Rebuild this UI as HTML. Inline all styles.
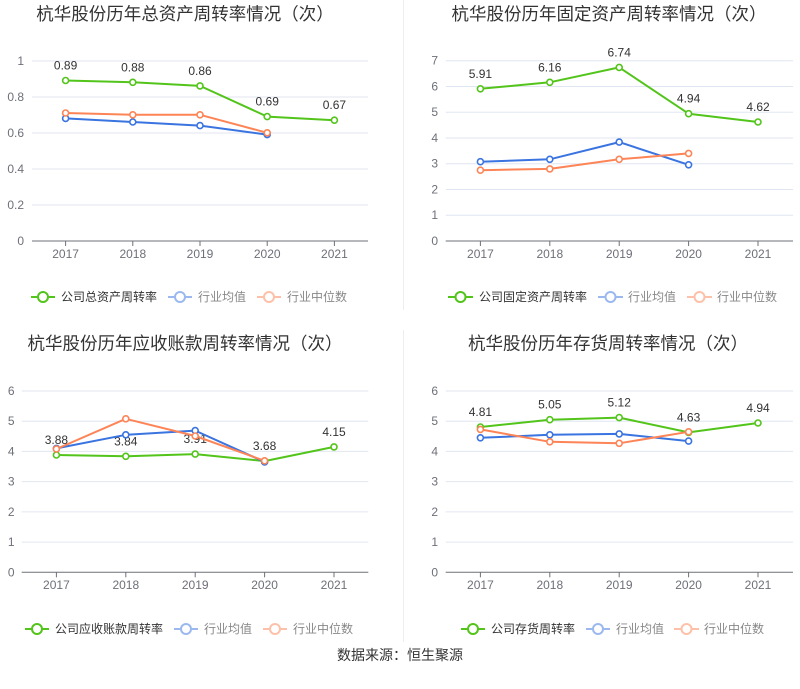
<!DOCTYPE html>
<html><head><meta charset="utf-8"><style>
html,body{margin:0;padding:0;background:#fff;}
svg{display:block;font-family:"Liberation Sans","Noto Sans CJK SC",sans-serif;}
.t{font-size:17.5px;fill:#333;text-anchor:middle;font-family:"Liberation Sans","Noto Sans CJK SC",sans-serif;}
.g{stroke:#e0e6f1;stroke-width:1;}
.ax{stroke:#6e7079;stroke-width:1;}
.yl{font-size:12px;fill:#6e7079;text-anchor:end;}
.xl{font-size:12px;fill:#6e7079;text-anchor:middle;}
.dl{font-size:12px;fill:#333;text-anchor:middle;}
.lg{font-size:12px;fill:#333;}
.lg2{font-size:12px;fill:#888;}
.gr{stroke:#52c41a;}
.bl{stroke:#3a74e0;}
.or{stroke:#fd8456;}
.ln{fill:none;stroke-width:2;stroke-linejoin:round;}
.mk{fill:#fff;stroke-width:1.6;}
</style></head><body>
<svg width="800" height="689" viewBox="0 0 800 689" xmlns="http://www.w3.org/2000/svg">
<rect width="800" height="689" fill="#fff"/>
<line x1="403.5" y1="0" x2="403.5" y2="310" stroke="#eee"/>
<line x1="403.5" y1="330" x2="403.5" y2="642" stroke="#eee"/>

<!-- Chart 1 -->
<text class="t" x="185" y="20">杭华股份历年总资产周转率情况（次）</text>
<g>
<line class="g" x1="32" y1="61" x2="368" y2="61"/>
<line class="g" x1="32" y1="97" x2="368" y2="97"/>
<line class="g" x1="32" y1="133" x2="368" y2="133"/>
<line class="g" x1="32" y1="169" x2="368" y2="169"/>
<line class="g" x1="32" y1="205" x2="368" y2="205"/>
<line class="ax" x1="32" y1="241" x2="368" y2="241"/>
<line class="ax" x1="65.6" y1="241" x2="65.6" y2="246"/>
<line class="ax" x1="132.8" y1="241" x2="132.8" y2="246"/>
<line class="ax" x1="200" y1="241" x2="200" y2="246"/>
<line class="ax" x1="267.2" y1="241" x2="267.2" y2="246"/>
<line class="ax" x1="334.4" y1="241" x2="334.4" y2="246"/>
<text class="yl" x="24" y="65">1</text>
<text class="yl" x="24" y="101">0.8</text>
<text class="yl" x="24" y="137">0.6</text>
<text class="yl" x="24" y="173">0.4</text>
<text class="yl" x="24" y="209">0.2</text>
<text class="yl" x="24" y="245">0</text>
<text class="xl" x="65.6" y="258">2017</text>
<text class="xl" x="132.8" y="258">2018</text>
<text class="xl" x="200" y="258">2019</text>
<text class="xl" x="267.2" y="258">2020</text>
<text class="xl" x="334.4" y="258">2021</text>
<polyline class="ln gr" points="65.6,80.5 132.8,82.3 200,85.9 267.2,116.6 334.4,120.2"/>
<g class="mk gr"><circle cx="65.6" cy="80.5" r="3"/><circle cx="132.8" cy="82.3" r="3"/><circle cx="200" cy="85.9" r="3"/><circle cx="267.2" cy="116.6" r="3"/><circle cx="334.4" cy="120.2" r="3"/></g>
<text class="dl" x="65.6" y="69.5">0.89</text>
<text class="dl" x="132.8" y="71.3">0.88</text>
<text class="dl" x="200" y="74.9">0.86</text>
<text class="dl" x="267.2" y="105.6">0.69</text>
<text class="dl" x="334.4" y="109.2">0.67</text>
<polyline class="ln bl" points="65.6,118.4 132.8,122 200,125.6 267.2,134.6"/>
<g class="mk bl"><circle cx="65.6" cy="118.4" r="3"/><circle cx="132.8" cy="122" r="3"/><circle cx="200" cy="125.6" r="3"/><circle cx="267.2" cy="134.6" r="3"/></g>
<polyline class="ln or" points="65.6,113 132.8,114.8 200,114.8 267.2,132.8"/>
<g class="mk or"><circle cx="65.6" cy="113" r="3"/><circle cx="132.8" cy="114.8" r="3"/><circle cx="200" cy="114.8" r="3"/><circle cx="267.2" cy="132.8" r="3"/></g>
<!-- legend -->
<line x1="31" y1="297" x2="55" y2="297" stroke="#52c41a" stroke-width="2"/><circle cx="43" cy="297" r="5" fill="#fff" stroke="#52c41a" stroke-width="2"/>
<text class="lg" x="61" y="301">公司总资产周转率</text>
<g opacity="0.5"><line x1="168" y1="297" x2="192" y2="297" stroke="#3a74e0" stroke-width="2"/><circle cx="180" cy="297" r="5" fill="#fff" stroke="#3a74e0" stroke-width="2"/></g>
<text class="lg2" x="198" y="301">行业均值</text>
<g opacity="0.5"><line x1="257" y1="297" x2="281" y2="297" stroke="#fd8456" stroke-width="2"/><circle cx="269" cy="297" r="5" fill="#fff" stroke="#fd8456" stroke-width="2"/></g>
<text class="lg2" x="287" y="301">行业中位数</text>
</g>

<!-- Chart 2 -->
<text class="t" x="609" y="20">杭华股份历年固定资产周转率情况（次）</text>
<g>
<line class="g" x1="445.7" y1="60.7" x2="793" y2="60.7"/>
<line class="g" x1="445.7" y1="86.5" x2="793" y2="86.5"/>
<line class="g" x1="445.7" y1="112.2" x2="793" y2="112.2"/>
<line class="g" x1="445.7" y1="138" x2="793" y2="138"/>
<line class="g" x1="445.7" y1="163.7" x2="793" y2="163.7"/>
<line class="g" x1="445.7" y1="189.5" x2="793" y2="189.5"/>
<line class="g" x1="445.7" y1="215.2" x2="793" y2="215.2"/>
<line class="ax" x1="445.7" y1="241" x2="793" y2="241"/>
<line class="ax" x1="480.4" y1="241" x2="480.4" y2="246"/>
<line class="ax" x1="549.8" y1="241" x2="549.8" y2="246"/>
<line class="ax" x1="619.2" y1="241" x2="619.2" y2="246"/>
<line class="ax" x1="688.6" y1="241" x2="688.6" y2="246"/>
<line class="ax" x1="758" y1="241" x2="758" y2="246"/>
<text class="yl" x="438" y="64.7">7</text>
<text class="yl" x="438" y="90.5">6</text>
<text class="yl" x="438" y="116.2">5</text>
<text class="yl" x="438" y="142">4</text>
<text class="yl" x="438" y="167.7">3</text>
<text class="yl" x="438" y="193.5">2</text>
<text class="yl" x="438" y="219.2">1</text>
<text class="yl" x="438" y="245">0</text>
<text class="xl" x="480.4" y="258">2017</text>
<text class="xl" x="549.8" y="258">2018</text>
<text class="xl" x="619.2" y="258">2019</text>
<text class="xl" x="688.6" y="258">2020</text>
<text class="xl" x="758" y="258">2021</text>
<polyline class="ln gr" points="480.4,88.8 549.8,82.3 619.2,67.4 688.6,113.7 758,122"/>
<g class="mk gr"><circle cx="480.4" cy="88.8" r="3"/><circle cx="549.8" cy="82.3" r="3"/><circle cx="619.2" cy="67.4" r="3"/><circle cx="688.6" cy="113.7" r="3"/><circle cx="758" cy="122" r="3"/></g>
<text class="dl" x="480.4" y="77.8">5.91</text>
<text class="dl" x="549.8" y="71.3">6.16</text>
<text class="dl" x="619.2" y="56.4">6.74</text>
<text class="dl" x="688.6" y="102.7">4.94</text>
<text class="dl" x="758" y="111">4.62</text>
<polyline class="ln bl" points="480.4,161.7 549.8,159.3 619.2,142.1 688.6,164.8"/>
<g class="mk bl"><circle cx="480.4" cy="161.7" r="3"/><circle cx="549.8" cy="159.3" r="3"/><circle cx="619.2" cy="142.1" r="3"/><circle cx="688.6" cy="164.8" r="3"/></g>
<polyline class="ln or" points="480.4,170.2 549.8,168.9 619.2,159.3 688.6,153.4"/>
<g class="mk or"><circle cx="480.4" cy="170.2" r="3"/><circle cx="549.8" cy="168.9" r="3"/><circle cx="619.2" cy="159.3" r="3"/><circle cx="688.6" cy="153.4" r="3"/></g>
<line x1="448" y1="297" x2="473" y2="297" stroke="#52c41a" stroke-width="2"/><circle cx="460.5" cy="297" r="5" fill="#fff" stroke="#52c41a" stroke-width="2"/>
<text class="lg" x="479" y="301">公司固定资产周转率</text>
<g opacity="0.5"><line x1="598" y1="297" x2="623" y2="297" stroke="#3a74e0" stroke-width="2"/><circle cx="610.5" cy="297" r="5" fill="#fff" stroke="#3a74e0" stroke-width="2"/></g>
<text class="lg2" x="628" y="301">行业均值</text>
<g opacity="0.5"><line x1="687" y1="297" x2="712" y2="297" stroke="#fd8456" stroke-width="2"/><circle cx="699.5" cy="297" r="5" fill="#fff" stroke="#fd8456" stroke-width="2"/></g>
<text class="lg2" x="717" y="301">行业中位数</text>
</g>

<!-- Chart 3 -->
<text class="t" x="185" y="349.5">杭华股份历年应收账款周转率情况（次）</text>
<g>
<line class="g" x1="21.7" y1="391" x2="368.3" y2="391"/>
<line class="g" x1="21.7" y1="421.2" x2="368.3" y2="421.2"/>
<line class="g" x1="21.7" y1="451.4" x2="368.3" y2="451.4"/>
<line class="g" x1="21.7" y1="481.6" x2="368.3" y2="481.6"/>
<line class="g" x1="21.7" y1="511.9" x2="368.3" y2="511.9"/>
<line class="g" x1="21.7" y1="542.1" x2="368.3" y2="542.1"/>
<line class="ax" x1="21.7" y1="572.3" x2="368.3" y2="572.3"/>
<line class="ax" x1="56.4" y1="572.3" x2="56.4" y2="577.3"/>
<line class="ax" x1="125.8" y1="572.3" x2="125.8" y2="577.3"/>
<line class="ax" x1="195.2" y1="572.3" x2="195.2" y2="577.3"/>
<line class="ax" x1="264.6" y1="572.3" x2="264.6" y2="577.3"/>
<line class="ax" x1="334" y1="572.3" x2="334" y2="577.3"/>
<text class="yl" x="14.5" y="395">6</text>
<text class="yl" x="14.5" y="425.2">5</text>
<text class="yl" x="14.5" y="455.4">4</text>
<text class="yl" x="14.5" y="485.6">3</text>
<text class="yl" x="14.5" y="515.9">2</text>
<text class="yl" x="14.5" y="546.1">1</text>
<text class="yl" x="14.5" y="576.3">0</text>
<text class="xl" x="56.4" y="589">2017</text>
<text class="xl" x="125.8" y="589">2018</text>
<text class="xl" x="195.2" y="589">2019</text>
<text class="xl" x="264.6" y="589">2020</text>
<text class="xl" x="334" y="589">2021</text>
<polyline class="ln gr" points="56.4,455 125.8,456.3 195.2,454.1 264.6,461.1 334,446.9"/>
<g class="mk gr"><circle cx="56.4" cy="455" r="3"/><circle cx="125.8" cy="456.3" r="3"/><circle cx="195.2" cy="454.1" r="3"/><circle cx="264.6" cy="461.1" r="3"/><circle cx="334" cy="446.9" r="3"/></g>
<text class="dl" x="56.4" y="444">3.88</text>
<text class="dl" x="125.8" y="445.3">3.84</text>
<text class="dl" x="195.2" y="443.1">3.91</text>
<text class="dl" x="264.6" y="450.1">3.68</text>
<text class="dl" x="334" y="435.9">4.15</text>
<polyline class="ln bl" points="56.4,448.4 125.8,434.8 195.2,430.6 264.6,462"/>
<g class="mk bl"><circle cx="56.4" cy="448.4" r="3"/><circle cx="125.8" cy="434.8" r="3"/><circle cx="195.2" cy="430.6" r="3"/><circle cx="264.6" cy="462" r="3"/></g>
<polyline class="ln or" points="56.4,449 125.8,418.8 195.2,436 264.6,460.8"/>
<g class="mk or"><circle cx="56.4" cy="449" r="3"/><circle cx="125.8" cy="418.8" r="3"/><circle cx="195.2" cy="436" r="3"/><circle cx="264.6" cy="460.8" r="3"/></g>
<line x1="25" y1="629" x2="49" y2="629" stroke="#52c41a" stroke-width="2"/><circle cx="37" cy="629" r="5" fill="#fff" stroke="#52c41a" stroke-width="2"/>
<text class="lg" x="55" y="633">公司应收账款周转率</text>
<g opacity="0.5"><line x1="174" y1="629" x2="198" y2="629" stroke="#3a74e0" stroke-width="2"/><circle cx="186" cy="629" r="5" fill="#fff" stroke="#3a74e0" stroke-width="2"/></g>
<text class="lg2" x="204" y="633">行业均值</text>
<g opacity="0.5"><line x1="263" y1="629" x2="287" y2="629" stroke="#fd8456" stroke-width="2"/><circle cx="275" cy="629" r="5" fill="#fff" stroke="#fd8456" stroke-width="2"/></g>
<text class="lg2" x="293" y="633">行业中位数</text>
</g>

<!-- Chart 4 -->
<text class="t" x="608" y="349.5">杭华股份历年存货周转率情况（次）</text>
<g>
<line class="g" x1="445.7" y1="391" x2="793" y2="391"/>
<line class="g" x1="445.7" y1="421.2" x2="793" y2="421.2"/>
<line class="g" x1="445.7" y1="451.4" x2="793" y2="451.4"/>
<line class="g" x1="445.7" y1="481.6" x2="793" y2="481.6"/>
<line class="g" x1="445.7" y1="511.9" x2="793" y2="511.9"/>
<line class="g" x1="445.7" y1="542.1" x2="793" y2="542.1"/>
<line class="ax" x1="445.7" y1="572.3" x2="793" y2="572.3"/>
<line class="ax" x1="480.4" y1="572.3" x2="480.4" y2="577.3"/>
<line class="ax" x1="549.8" y1="572.3" x2="549.8" y2="577.3"/>
<line class="ax" x1="619.2" y1="572.3" x2="619.2" y2="577.3"/>
<line class="ax" x1="688.6" y1="572.3" x2="688.6" y2="577.3"/>
<line class="ax" x1="758" y1="572.3" x2="758" y2="577.3"/>
<text class="yl" x="438" y="395">6</text>
<text class="yl" x="438" y="425.2">5</text>
<text class="yl" x="438" y="455.4">4</text>
<text class="yl" x="438" y="485.6">3</text>
<text class="yl" x="438" y="515.9">2</text>
<text class="yl" x="438" y="546.1">1</text>
<text class="yl" x="438" y="576.3">0</text>
<text class="xl" x="480.4" y="589">2017</text>
<text class="xl" x="549.8" y="589">2018</text>
<text class="xl" x="619.2" y="589">2019</text>
<text class="xl" x="688.6" y="589">2020</text>
<text class="xl" x="758" y="589">2021</text>
<polyline class="ln gr" points="480.4,427 549.8,419.7 619.2,417.6 688.6,432.4 758,423"/>
<g class="mk gr"><circle cx="480.4" cy="427" r="3"/><circle cx="549.8" cy="419.7" r="3"/><circle cx="619.2" cy="417.6" r="3"/><circle cx="688.6" cy="432.4" r="3"/><circle cx="758" cy="423" r="3"/></g>
<text class="dl" x="480.4" y="416">4.81</text>
<text class="dl" x="549.8" y="408.7">5.05</text>
<text class="dl" x="619.2" y="406.6">5.12</text>
<text class="dl" x="688.6" y="421.4">4.63</text>
<text class="dl" x="758" y="412">4.94</text>
<polyline class="ln bl" points="480.4,437.8 549.8,434.8 619.2,433.9 688.6,441.1"/>
<g class="mk bl"><circle cx="480.4" cy="437.8" r="3"/><circle cx="549.8" cy="434.8" r="3"/><circle cx="619.2" cy="433.9" r="3"/><circle cx="688.6" cy="441.1" r="3"/></g>
<polyline class="ln or" points="480.4,429.4 549.8,441.8 619.2,443.3 688.6,431.8"/>
<g class="mk or"><circle cx="480.4" cy="429.4" r="3"/><circle cx="549.8" cy="441.8" r="3"/><circle cx="619.2" cy="443.3" r="3"/><circle cx="688.6" cy="431.8" r="3"/></g>
<line x1="461" y1="629" x2="485" y2="629" stroke="#52c41a" stroke-width="2"/><circle cx="473" cy="629" r="5" fill="#fff" stroke="#52c41a" stroke-width="2"/>
<text class="lg" x="491" y="633">公司存货周转率</text>
<g opacity="0.5"><line x1="586" y1="629" x2="610" y2="629" stroke="#3a74e0" stroke-width="2"/><circle cx="598" cy="629" r="5" fill="#fff" stroke="#3a74e0" stroke-width="2"/></g>
<text class="lg2" x="616" y="633">行业均值</text>
<g opacity="0.5"><line x1="674" y1="629" x2="699" y2="629" stroke="#fd8456" stroke-width="2"/><circle cx="686.5" cy="629" r="5" fill="#fff" stroke="#fd8456" stroke-width="2"/></g>
<text class="lg2" x="704" y="633">行业中位数</text>
</g>

<text x="400" y="660" font-size="14" fill="#333" text-anchor="middle">数据来源：恒生聚源</text>
</svg>
</body></html>
